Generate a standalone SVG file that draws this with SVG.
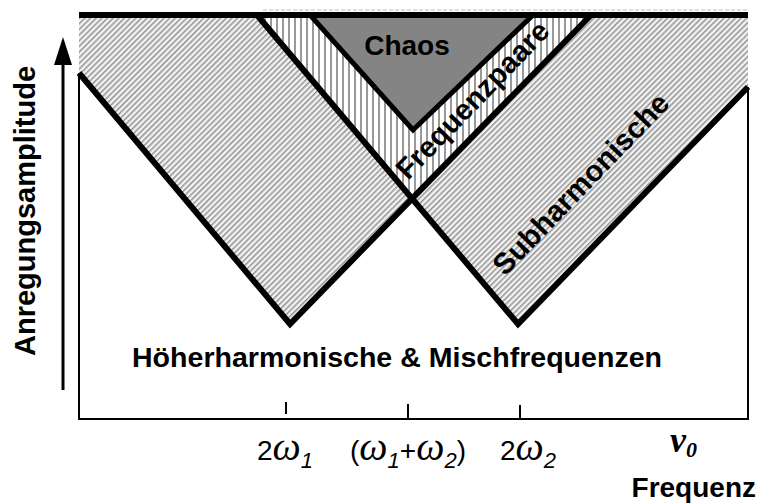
<svg xmlns="http://www.w3.org/2000/svg" width="758" height="504" viewBox="0 0 758 504">
<style>
.lbl{font-family:"Liberation Sans",Arial,sans-serif;font-weight:bold;font-size:28px;fill:#000}
.m{font-family:"Liberation Sans",Arial,sans-serif;font-size:28px;fill:#000}
.w{font-family:"Liberation Serif","Times New Roman",serif;font-style:italic;font-size:40px}
.sub{font-family:"Liberation Sans",Arial,sans-serif;font-style:italic;font-size:22px}
.thick{fill:none;stroke:#000;stroke-width:6;stroke-linejoin:miter}
.thin{fill:none;stroke:#000;stroke-width:2}
</style>
<defs>
<pattern id="diag" width="4" height="4" patternUnits="userSpaceOnUse" patternTransform="rotate(45)">
<rect width="4" height="4" fill="#f2f2f2"/>
<rect width="1.5" height="4" fill="#929292"/>
</pattern>
<pattern id="vert" width="6" height="6" patternUnits="userSpaceOnUse">
<rect width="6" height="6" fill="#fff"/>
<rect width="2" height="6" fill="#999"/>
</pattern>
</defs>
<rect width="758" height="504" fill="#fff"/>
<g id="region-hoeher-left">
<polygon points="79,15 257,15 412,199 290,324 79,73" fill="url(#diag)"/>
</g>
<g id="region-subharmonische">
<polygon points="591,15 748,15 748,87 518,324 412,199" fill="url(#diag)"/>
</g>
<g id="region-frequenzpaare">
<polygon points="257,15 591,15 412,199" fill="url(#vert)"/>
</g>
<g id="region-chaos">
<polygon points="310,15 533,15 413,130" fill="#848484" stroke="#000" stroke-width="5" stroke-linejoin="miter"/>
</g>
<g id="connectors">
<line x1="263" y1="10" x2="748" y2="10" stroke="#bbb" stroke-width="1" stroke-dasharray="4 2"/>
<polyline class="thick" points="79,73 290,324 591,15"/>
<polyline class="thick" points="257,15 518,324 748,87"/>
<line class="thick" x1="79" y1="15" x2="748" y2="15"/>
<polyline class="thin" points="79,73 79,419 748,419 748,87"/>
<line class="thin" x1="286" y1="402" x2="286" y2="414"/>
<line class="thin" x1="408" y1="404" x2="408" y2="419"/>
<line class="thin" x1="520" y1="405" x2="520" y2="419"/>
<line x1="63" y1="390" x2="63" y2="62" stroke="#000" stroke-width="3"/>
<polygon points="54,65 63,37 72,65" fill="#000"/>
</g>
<g id="labels">
<text class="lbl" x="407" y="55" text-anchor="middle">Chaos</text>
<text class="lbl" style="font-size:29px" transform="translate(408,181) rotate(-46)">Frequenzpaare</text>
<text class="lbl" style="font-size:29.5px" transform="translate(505,277) rotate(-46)">Subharmonische</text>
<text class="lbl" x="397" y="367" text-anchor="middle" textLength="530" lengthAdjust="spacingAndGlyphs">Höherharmonische &amp; Mischfrequenzen</text>
<text class="lbl" style="font-size:29px" transform="translate(35,356) rotate(-90)">Anregungsamplitude</text>
<text class="lbl" x="756" y="497" text-anchor="end">Frequenz</text>
<text class="m" x="257" y="460">2<tspan class="w">ω</tspan><tspan class="sub" dy="8">1</tspan></text>
<text class="m" x="350" y="460">(<tspan class="w">ω</tspan><tspan class="sub" dy="8">1</tspan><tspan dy="-8">+</tspan><tspan class="w">ω</tspan><tspan class="sub" dy="8">2</tspan><tspan dy="-8">)</tspan></text>
<text class="m" x="500" y="460">2<tspan class="w">ω</tspan><tspan class="sub" dy="8">2</tspan></text>
<text x="670" y="452" font-family="Liberation Serif,Times New Roman,serif" font-style="italic" font-weight="bold" font-size="36">ν<tspan font-size="22" dy="5">0</tspan></text>
</g>
</svg>
